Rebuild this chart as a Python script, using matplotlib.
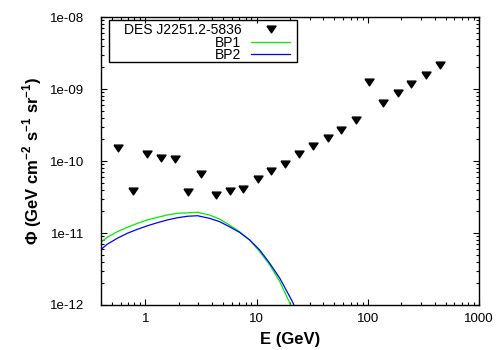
import matplotlib
matplotlib.use('Agg')
import matplotlib.pyplot as plt
from matplotlib.patches import Rectangle
from matplotlib.ticker import NullFormatter, FixedLocator

plt.rcParams['font.family'] = ['Liberation Sans', 'DejaVu Sans']
plt.rcParams['mathtext.fontset'] = 'custom'
plt.rcParams['mathtext.rm'] = 'Liberation Sans'
plt.rcParams['mathtext.bf'] = 'Liberation Sans:bold'

# upper limits of DES J2251.2-5836
energy = [0.570, 0.768, 1.027, 1.386, 1.838, 2.409, 3.20, 4.31, 5.73, 7.55,
          10.27, 13.46, 17.85, 24.2, 31.9, 43.9, 57.9, 78.6, 103.6, 136.8,
          185.3, 246.4, 331.7, 443.6]
flux_ul = [1.50e-10, 3.87e-11, 1.24e-10, 1.09e-10, 1.056e-10, 3.67e-11,
           6.54e-11, 3.37e-11, 3.83e-11, 4.04e-11, 5.57e-11, 7.26e-11,
           9.0e-11, 1.24e-10, 1.62e-10, 2.11e-10, 2.70e-10, 3.71e-10,
           1.25e-9, 6.33e-10, 8.71e-10, 1.17e-9, 1.56e-9, 2.15e-9]

# benchmark point spectra
bp_energy = [0.395, 0.454, 0.559, 0.688, 0.847, 1.042, 1.283, 1.579, 1.945,
             2.394, 2.946, 3.781, 4.655, 5.731, 7.055, 8.683, 10.69, 13.16,
             16.20, 19.93, 21.35, 22.5]
bp1 = [7.33e-12, 8.71e-12, 1.04e-11, 1.20e-11, 1.36e-11, 1.52e-11, 1.65e-11,
       1.78e-11, 1.88e-11, 1.91e-11, 1.94e-11, 1.78e-11, 1.56e-11, 1.29e-11,
       1.04e-11, 8.0e-12, 5.5e-12, 3.59e-12, 2.11e-12, 1.06e-12, 7.5e-13,
       5.5e-13]
bp2 = [5.81e-12, 6.97e-12, 8.44e-12, 9.9e-12, 1.125e-11, 1.26e-11, 1.39e-11,
       1.52e-11, 1.63e-11, 1.71e-11, 1.74e-11, 1.60e-11, 1.44e-11, 1.22e-11,
       1.02e-11, 8.0e-12, 5.81e-12, 3.79e-12, 2.35e-12, 1.30e-12, 1.06e-12,
       8.5e-13]

xticks = [1, 10, 100, 1000]
xticklabels = ['1', '10', '100', '1000']
yticks = [1e-12, 1e-11, 1e-10, 1e-9, 1e-8]
yticklabels = ['1e-12', '1e-11', '1e-10', '1e-09', '1e-08']

fig = plt.figure(figsize=(5, 3.5), dpi=100)
ax = fig.add_axes([0.202, 0.1286, 0.756, 0.8224])

# gnuplot style downward triangle, wider than tall
tri = [(-1, 0.75), (1, 0.75), (0, -0.75), (-1, 0.75)]
ax.plot(energy, flux_ul, linestyle='none', marker=tri, markersize=6.5,
        color='black', label='DES J2251.2-5836')
ax.plot(bp_energy, bp1, color='#00ee00', lw=0.9, label='BP1')
ax.plot(bp_energy, bp2, color='#0000ff', lw=0.9, label='BP2')

ax.set_xscale('log')
ax.set_yscale('log')
ax.set_xlim(0.4, 1000)
ax.set_ylim(1e-12, 1e-8)

ax.xaxis.set_major_locator(FixedLocator(xticks))
ax.set_xticklabels(xticklabels)
ax.yaxis.set_major_locator(FixedLocator(yticks))
ax.set_yticklabels(yticklabels)
ax.xaxis.set_minor_formatter(NullFormatter())
ax.yaxis.set_minor_formatter(NullFormatter())

ax.tick_params(which='both', direction='in', top=True, right=True,
               width=0.8, labelsize=9.5)
ax.tick_params(which='major', length=4)
ax.tick_params(which='minor', length=2.2)
ax.tick_params(axis='x', pad=6)
ax.tick_params(axis='y', pad=12)
for s in ax.spines.values():
    s.set_linewidth(1)

ax.set_xlabel('E (GeV)', fontsize=12, fontweight='bold')
ax.set_ylabel(r'Φ (GeV cm$^{\mathbf{-2}}$ s$^{\mathbf{-1}}$ sr$^{\mathbf{-1}}$)',
              fontsize=12, fontweight='bold')
ax.xaxis.set_label_coords(0.5, -0.095)
ax.yaxis.set_label_coords(-0.152, 0.5)

# key: text right aligned, samples on the right, box drawn separately
leg = ax.legend(loc='upper right', bbox_to_anchor=(0.5, 0.98),
                frameon=False, markerfirst=False, fontsize=10,
                handlelength=2.8, handletextpad=0.7, labelspacing=-0.1,
                borderpad=0.0, borderaxespad=0.0)
ax.add_patch(Rectangle((0.022, 0.843), 0.497, 0.147, transform=ax.transAxes,
                       fill=False, lw=1, color='black'))

plt.savefig('out.png', dpi=100)
plt.close()
